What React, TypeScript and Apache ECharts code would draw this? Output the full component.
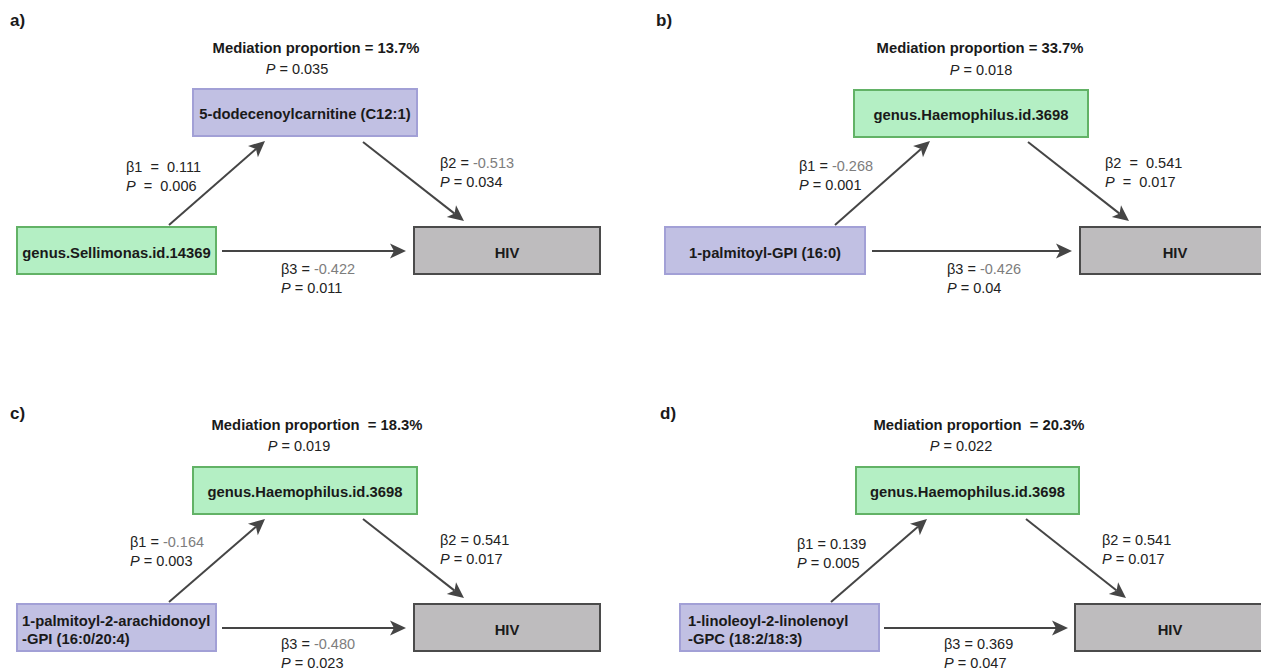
import React, { useEffect, useRef } from "react";
import * as echarts from "echarts";

// ---------- data ----------
const panelTags = ["a)", "b)", "c)", "d)"];
const exposures = [
  ["genus.Sellimonas.id.14369"],
  ["1-palmitoyl-GPI (16:0)"],
  ["1-palmitoyl-2-arachidonoyl", "-GPI (16:0/20:4)"],
  ["1-linoleoyl-2-linolenoyl", "-GPC (18:2/18:3)"],
];
const mediators = [
  "5-dodecenoylcarnitine (C12:1)",
  "genus.Haemophilus.id.3698",
  "genus.Haemophilus.id.3698",
  "genus.Haemophilus.id.3698",
];
const outcome = "HIV";
// node kind: "micro" (genus, green) or "metab" (metabolite, purple)
const exposureKind = ["micro", "metab", "metab", "metab"];
const mediatorKind = ["metab", "micro", "micro", "micro"];
const mediationProportion = ["13.7%", "33.7%", "18.3%", "20.3%"];
const mediationP = ["0.035", "0.018", "0.019", "0.022"];
const beta1 = [0.111, -0.268, -0.164, 0.139];
const p1 = ["0.006", "0.001", "0.003", "0.005"];
const beta2 = [-0.513, 0.541, 0.541, 0.541];
const p2 = ["0.034", "0.017", "0.017", "0.017"];
const beta3 = [-0.422, -0.426, -0.48, 0.369];
const p3 = ["0.011", "0.04", "0.023", "0.047"];

// ---------- layout (page coordinates, mapped through hidden axes) ----------
type Box = [number, number, number, number];
type Pt = [number, number];
interface PanelLayout {
  tag: Pt;
  med: Pt;
  medGap: string;
  medP: Pt;
  mBox: Box;
  eBox: Box;
  eAlign: "center" | "left";
  eTextX: number;
  oBox: Box;
  a1: [Pt, Pt];
  a2: [Pt, Pt];
  a3: [Pt, Pt];
  l1: Pt;
  l2: Pt;
  l3: Pt;
  g1: string;
  g2: string;
}
const LAYOUT: PanelLayout[] = [
  {
    tag: [10, 20], med: [316, 48], medGap: " ", medP: [297, 69],
    mBox: [193, 89, 417, 136], eBox: [17, 227, 216, 274], eAlign: "center", eTextX: 0,
    oBox: [414, 227, 600, 274],
    a1: [[169, 225], [265, 141]], a2: [[363, 142], [464, 221]], a3: [[222, 251], [406, 251]],
    l1: [126, 167], l2: [440, 163], l3: [281, 269], g1: "  ", g2: " ",
  },
  {
    tag: [656, 20], med: [980, 48], medGap: " ", medP: [981, 70],
    mBox: [854, 90, 1088, 137], eBox: [665, 227, 865, 274], eAlign: "center", eTextX: 0,
    oBox: [1080, 227, 1270, 274],
    a1: [[835, 225], [930, 141]], a2: [[1028, 142], [1129, 221]], a3: [[872, 251], [1072, 251]],
    l1: [799, 166], l2: [1105, 163], l3: [947, 269], g1: " ", g2: "  ",
  },
  {
    tag: [10, 413], med: [317, 425], medGap: "  ", medP: [299, 446],
    mBox: [193, 467, 417, 514], eBox: [17, 604, 216, 651], eAlign: "left", eTextX: 22,
    oBox: [414, 604, 600, 651],
    a1: [[169, 602], [265, 519]], a2: [[363, 519], [464, 598]], a3: [[222, 628], [406, 628]],
    l1: [130, 542], l2: [440, 540], l3: [281, 644], g1: " ", g2: " ",
  },
  {
    tag: [660, 413], med: [979, 425], medGap: "  ", medP: [961, 446],
    mBox: [856, 467, 1079, 514], eBox: [680, 604, 879, 651], eAlign: "left", eTextX: 688,
    oBox: [1075, 604, 1265, 651],
    a1: [[831, 602], [927, 519]], a2: [[1026, 519], [1126, 598]], a3: [[884, 628], [1068, 628]],
    l1: [797, 544], l2: [1102, 540], l3: [944, 644], g1: " ", g2: " ",
  },
];

const FONT = "'Liberation Sans', Arial, Helvetica, sans-serif";
const FS = 14.5;
const FSB = 14.8;
const DARK = "#222222";
const GREY = "#7d7d7d";
const ARROW = "#454545";
const KIND_STYLE: Record<string, { fill: string; stroke: string }> = {
  micro: { fill: "#b4efc4", stroke: "#62b266" },
  metab: { fill: "#c1c0e3", stroke: "#a2a0d6" },
};
const OUT_STYLE = { fill: "#bebcbe", stroke: "#4b4b4b" };

const RICH = {
  t: { fontSize: FS, fontFamily: FONT, fill: DARK },
  g: { fontSize: FS, fontFamily: FONT, fill: GREY },
  i: { fontSize: FS, fontFamily: FONT, fill: DARK, fontStyle: "italic" },
  b: { fontSize: FSB, fontFamily: FONT, fill: "#1a1a1a", fontWeight: "bold" },
  tag: { fontSize: 17, fontFamily: FONT, fill: "#1a1a1a", fontWeight: "bold" },
};

function renderPanel(params: any, api: any) {
  const k = api.value(0) as number;
  const L = LAYOUT[k];
  const c = (p: Pt) => api.coord(p) as [number, number];
  const children: any[] = [];

  const rect = (b: Box, st: { fill: string; stroke: string }) => {
    const p0 = c([b[0], b[1]]);
    const p1c = c([b[2], b[3]]);
    children.push({
      type: "rect",
      shape: { x: p0[0], y: p0[1], width: p1c[0] - p0[0], height: p1c[1] - p0[1] },
      style: { fill: st.fill, stroke: st.stroke, lineWidth: 2 },
    });
  };
  const text = (p: Pt, s: string, align: string) => {
    const q = c(p);
    children.push({
      type: "text",
      style: {
        text: s, x: q[0], y: q[1], align, verticalAlign: "middle",
        fontSize: FS, fontFamily: FONT, fill: DARK, rich: RICH,
      },
    });
  };
  const arrow = (seg: [Pt, Pt]) => {
    const s = c(seg[0]);
    const e = c(seg[1]);
    const dx = e[0] - s[0];
    const dy = e[1] - s[1];
    const len = Math.sqrt(dx * dx + dy * dy);
    const ux = dx / len, uy = dy / len;
    const nx = -uy, ny = ux;
    const HL = 16, HW = 7.5, NOTCH = 4;
    const bx = e[0] - ux * HL, by = e[1] - uy * HL;
    children.push({
      type: "line",
      shape: { x1: s[0], y1: s[1], x2: e[0] - ux * (HL - NOTCH), y2: e[1] - uy * (HL - NOTCH) },
      style: { stroke: ARROW, lineWidth: 2 },
    });
    children.push({
      type: "polygon",
      shape: {
        points: [
          [e[0], e[1]],
          [bx + nx * HW, by + ny * HW],
          [bx + ux * NOTCH, by + uy * NOTCH],
          [bx - nx * HW, by - ny * HW],
        ],
      },
      style: { fill: ARROW },
    });
  };

  // tag & mediation headline
  text(L.tag, `{tag|${panelTags[k]}}`, "left");
  text(L.med, `{b|Mediation proportion${L.medGap}= ${mediationProportion[k]}}`, "center");
  text(L.medP, `{i|P}{t| = ${mediationP[k]}}`, "center");

  // boxes
  rect(L.mBox, KIND_STYLE[mediatorKind[k]]);
  text([(L.mBox[0] + L.mBox[2]) / 2, (L.mBox[1] + L.mBox[3]) / 2 + 1], `{b|${mediators[k]}}`, "center");

  rect(L.eBox, KIND_STYLE[exposureKind[k]]);
  const lines = exposures[k];
  const cy = (L.eBox[1] + L.eBox[3]) / 2 + 2;
  lines.forEach((ln, j) => {
    const y = cy + (j - (lines.length - 1) / 2) * 18;
    if (L.eAlign === "center") text([(L.eBox[0] + L.eBox[2]) / 2, y], `{b|${ln}}`, "center");
    else text([L.eTextX, y], `{b|${ln}}`, "left");
  });

  rect(L.oBox, OUT_STYLE);
  text([(L.oBox[0] + L.oBox[2]) / 2, (L.oBox[1] + L.oBox[3]) / 2 + 2], `{b|${outcome}}`, "center");

  // arrows
  arrow(L.a1);
  arrow(L.a2);
  arrow(L.a3);

  // coefficient labels
  const coef = (pos: Pt, name: string, beta: number, p: string, gap: string) => {
    const sty = beta < 0 ? "g" : "t";
    text(pos, `{t|${name}${gap}=${gap}}{${sty}|${beta.toFixed(3)}}`, "left");
    text([pos[0], pos[1] + 19], `{i|P}{t|${gap}=${gap}${p}}`, "left");
  };
  coef(L.l1, "β1", beta1[k], p1[k], L.g1);
  coef(L.l2, "β2", beta2[k], p2[k], L.g2);
  coef(L.l3, "β3", beta3[k], p3[k], " ");

  return { type: "group", children };
}

export default function App() {
  const ref = useRef<HTMLDivElement>(null);
  useEffect(() => {
    if (!ref.current) return;
    const chart = echarts.init(ref.current, undefined, { renderer: "svg" });
    chart.setOption({
      animation: false,
      backgroundColor: "#ffffff",
      grid: { left: 0, right: 0, top: 0, bottom: 0 },
      xAxis: { type: "value", min: 0, max: 1261, show: false },
      yAxis: { type: "value", min: 0, max: 672, inverse: true, show: false },
      series: [
        {
          type: "custom",
          coordinateSystem: "cartesian2d",
          clip: false,
          silent: true,
          data: panelTags.map((_, i) => [i, 0]),
          encode: { x: 0, y: 1 },
          renderItem: renderPanel,
        },
      ],
    });
    return () => chart.dispose();
  }, []);
  return (
    <div
      ref={ref}
      style={{ position: "fixed", left: 0, top: 0, width: 1261, height: 672, background: "#fff" }}
    />
  );
}
